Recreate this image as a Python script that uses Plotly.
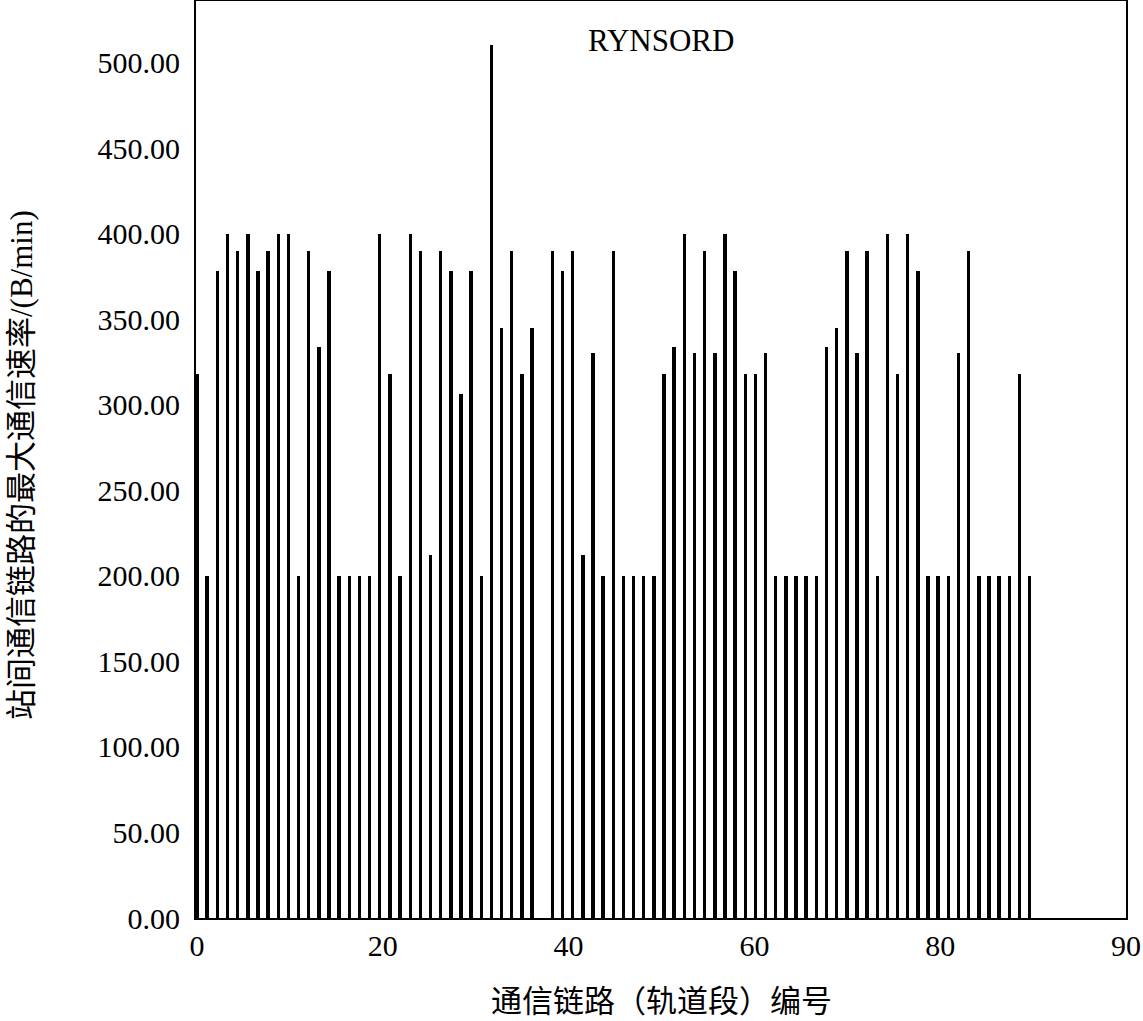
import plotly.graph_objects as go
import numpy as np

# link (track segment) numbers
links = list(range(0, 83))
# maximum communication rate per link (B/min); link 34 has no bar
rates = [318, 200, 378, 400, 390, 400, 378, 390, 400, 400,
         200, 390, 334, 378, 200, 200, 200, 200, 400, 318,
         200, 400, 390, 212, 390, 378, 306, 378, 200, 510,
         345, 390, 318, 345, None, 390, 378, 390, 212, 330,
         200, 390, 200, 200, 200, 200, 318, 334, 400, 330,
         390, 330, 400, 378, 318, 318, 330, 200, 200, 200,
         200, 200, 334, 345, 390, 330, 390, 200, 400, 318,
         400, 378, 200, 200, 200, 330, 390, 200, 200, 200,
         200, 318, 200]

x_tick_labels = ["0", "20", "40", "60", "80", "90"]
y_tick_vals = [0, 50, 100, 150, 200, 250, 300, 350, 400, 450, 500]

x_max = 91.5
x_tick_pos = list(np.linspace(0, x_max, len(x_tick_labels)))

fig = go.Figure()
fig.add_trace(go.Bar(
    x=links, y=rates, width=0.34,
    marker=dict(color="black", line=dict(width=0)),
    showlegend=False,
))

serif = "Liberation Serif, Times New Roman, serif"
cjk = "Liberation Serif, Noto Sans CJK SC, serif"

L, R, T, B = 196, 17, 1, 103
PW = 1143 - L - R
PH = 1021 - T - B

fig.update_layout(
    width=1143, height=1021,
    margin=dict(l=L, r=R, t=T, b=B, autoexpand=False),
    paper_bgcolor="white", plot_bgcolor="white",
    bargap=0,
    font=dict(family=serif, color="black"),
    annotations=[
        dict(text="RYNSORD", x=(661 - L) / PW, xref="paper",
             y=1 - 39 / PH, yref="paper", xanchor="center", yanchor="middle",
             showarrow=False, font=dict(family=serif, size=31, color="black")),
        dict(text="通信链路（轨道段）编号", x=(661 - L) / PW, xref="paper",
             y=(T + PH - 1002) / PH, yref="paper", xanchor="center", yanchor="middle",
             showarrow=False, font=dict(family=cjk, size=31, color="black")),
        dict(text="站间通信链路的最大通信速率/(B/min)", textangle=-90,
             x=(22 - L) / PW, xref="paper",
             y=(T + PH - 465) / PH, yref="paper", xanchor="center", yanchor="middle",
             showarrow=False, font=dict(family=cjk, size=31, color="black")),
    ],
)
fig.update_xaxes(
    range=[-0.1, x_max], tickvals=x_tick_pos, ticktext=x_tick_labels,
    showgrid=False, zeroline=False, showline=True, linecolor="black",
    linewidth=2, mirror=True, ticks="", automargin=False,
    tickfont=dict(family=serif, size=30, color="black"),
)
fig.update_yaxes(
    range=[0, 536], tickvals=y_tick_vals, tickformat=".2f",
    showgrid=False, zeroline=False, showline=True, linecolor="black",
    linewidth=2, mirror=True, ticks="", ticklabelstandoff=8, automargin=False,
    tickfont=dict(family=serif, size=30, color="black"),
)

fig.write_html("out.html", config={"displayModeBar": False},
               post_script="document.body.style.margin='0';")
